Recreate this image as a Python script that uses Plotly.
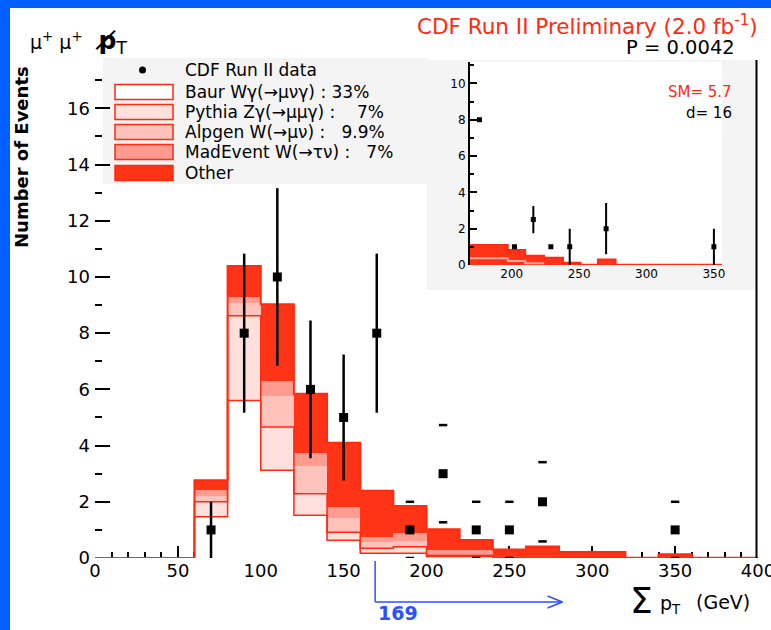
import plotly.graph_objects as go

# ---------------- data ----------------
bin_edges = list(range(0, 401, 20))
baur     = [0, 0, 0, 1.47, 5.60, 3.12, 1.52, 0.63, 0.17, 0.17, 0.05, 0.05, 0.02, 0.02, 0, 0, 0, 0, 0, 0]
pythia   = [0, 0, 0, 0.53, 3.02, 1.54, 0.77, 0.29, 0.18, 0.23, 0.05, 0.05, 0.02, 0.02, 0, 0, 0, 0, 0, 0]
alpgen   = [0, 0, 0, 0.20, 0.47, 1.12, 0.97, 0.49, 0.23, 0.20, 0.05, 0.05, 0.02, 0.02, 0, 0, 0, 0, 0, 0]
madevent = [0, 0, 0, 0.21, 0.20, 0.53, 0.49, 0.41, 0.18, 0.28, 0.13, 0.13, 0.02, 0.02, 0, 0, 0, 0, 0, 0]
other    = [0, 0, 0, 0.36, 1.10, 2.72, 2.09, 2.28, 1.63, 0.97, 0.74, 0.36, 0.22, 0.33, 0.21, 0.21, 0.01, 0.13, 0.01, 0.01]

data_x   = [70, 90, 110, 130, 150, 170, 190, 210, 230, 250, 270, 350]
data_y   = [1, 8, 10, 6, 5, 8, 1, 3, 1, 1, 2, 1]
data_err = [1.0, 2.83, 3.16, 2.45, 2.24, 2.83, 1.0, 1.73, 1.0, 1.0, 1.41, 1.0]
n_full_err = 6          # points drawn with full error bars (others show caps only)

threshold = 169
arrow_end = 282

legend_labels = ["CDF Run II data", "Baur Wγ(→μνγ) : 33%", "Pythia Zγ(→μμγ) :    7%",
                 "Alpgen W(→μν) :   9.9%", "MadEvent W(→τν) :   7%", "Other"]

# inset
inset_edges = [169, 197, 210, 224, 238, 251, 264, 277, 356]
inset_sm    = [1.10, 0.82, 0.51, 0.40, 0.13, 0.02, 0.30, 0.02]
inset_inner = [0.37, 0.22, 0.10]
inset_x   = [176, 202, 216, 229, 243, 270, 350]
inset_y   = [8, 1, 2.5, 1, 1, 2, 1]
inset_err = [0, 0, 0.75, 0, 1, 1.41, 1]
sm_text = "SM= 5.7"
d_text = "d= 16"
p_text = "P = 0.0042"

# ---------------- geometry helpers ----------------
W, H = 771, 630
L, R, T, B = 95, 13, 60, 72
PW, PH = W - L - R, H - T - B
def fx(px): return (px - L) / PW
def fy(py): return (H - B - py) / PH

FONT = "DejaVu Sans"
RED = "#ff3316"
LINE_RED = "#ff2a10"
BLUE = "#2a50ff"
colors = ["#ffffff", "#ffe0dc", "#ffc3bc", "#ff9b8f", RED]
layers = [baur, pythia, alpgen, madevent, other]

centers = [(a + b) / 2 for a, b in zip(bin_edges[:-1], bin_edges[1:])]
widths = [b - a for a, b in zip(bin_edges[:-1], bin_edges[1:])]

fig = go.Figure()
for vals, col in zip(layers, colors):
    fig.add_trace(go.Bar(x=centers, y=vals, width=widths, marker=dict(color=col, line=dict(width=0)),
                         showlegend=False, hoverinfo="skip"))

def cumul(k):
    return [sum(l[i] for l in layers[:k]) for i in range(len(centers))]

for k, lw in [(1, 1.5), (2, 1.5), (5, 2)]:
    c = cumul(k)
    fig.add_trace(go.Scatter(x=bin_edges, y=c + [c[-1]], mode="lines", line=dict(color=LINE_RED, width=lw, shape="hv"),
                             showlegend=False, hoverinfo="skip"))

# data points with full error bars
fig.add_trace(go.Scatter(x=data_x[:n_full_err], y=data_y[:n_full_err], mode="markers",
                         marker=dict(symbol="square", size=9, color="black"),
                         error_y=dict(type="data", array=data_err[:n_full_err], width=0, thickness=2.5, color="black"),
                         showlegend=False))
fig.add_trace(go.Scatter(x=data_x[n_full_err:], y=data_y[n_full_err:], mode="markers",
                         marker=dict(symbol="square", size=9, color="black"), showlegend=False))
cap_x, cap_y = [], []
for xv, yv, ev in zip(data_x[n_full_err:], data_y[n_full_err:], data_err[n_full_err:]):
    cap_x += [xv, xv]
    cap_y += [yv + ev, max(yv - ev, 0)]
fig.add_trace(go.Scatter(x=cap_x, y=cap_y, mode="markers",
                         marker=dict(symbol="line-ew", size=6, line=dict(width=2.5, color="black")),
                         showlegend=False))

# ---------------- inset ----------------
ic = [(a + b) / 2 for a, b in zip(inset_edges[:-1], inset_edges[1:])]
iw = [b - a for a, b in zip(inset_edges[:-1], inset_edges[1:])]
fig.add_trace(go.Bar(x=ic, y=inset_sm, width=iw, marker=dict(color=RED, line=dict(width=0)),
                     xaxis="x2", yaxis="y2", showlegend=False))
fig.add_trace(go.Scatter(x=inset_edges, y=inset_sm + [inset_sm[-1]], mode="lines", xaxis="x2", yaxis="y2",
                         line=dict(color=LINE_RED, width=2, shape="hv"), showlegend=False))
fig.add_trace(go.Scatter(x=inset_edges[:len(inset_inner) + 1], y=inset_inner + [inset_inner[-1]], mode="lines",
                         xaxis="x2", yaxis="y2", line=dict(color="#ffa89c", width=2, shape="hv"), showlegend=False))
fig.add_trace(go.Scatter(x=inset_x, y=inset_y, mode="markers", xaxis="x2", yaxis="y2",
                         marker=dict(symbol="square", size=5, color="black"),
                         error_y=dict(type="data", array=inset_err, width=0, thickness=2, color="black"),
                         showlegend=False))

# ---------------- shapes ----------------
shapes = [
    dict(type="rect", xref="paper", yref="paper", x0=fx(0), x1=fx(10), y0=fy(H), y1=fy(0),
         fillcolor="#0060ff", line=dict(width=0)),
    dict(type="rect", xref="paper", yref="paper", x0=fx(0), x1=fx(W), y0=fy(8), y1=fy(0),
         fillcolor="#0060ff", line=dict(width=0)),
    dict(type="rect", xref="paper", yref="paper", x0=fx(103), x1=fx(427), y0=fy(184), y1=fy(58),
         fillcolor="#f4f4f4", line=dict(width=0), layer="below"),
    dict(type="rect", xref="paper", yref="paper", x0=fx(427), x1=fx(756), y0=fy(290), y1=fy(60),
         fillcolor="#f4f4f4", line=dict(width=0), layer="below"),
    # right frame
    dict(type="rect", xref="paper", yref="paper", x0=fx(755.5), x1=fx(757.5), y0=0, y1=fy(60),
         fillcolor="black", line=dict(width=0)),
    # threshold arrow
    dict(type="line", xref="x", yref="paper", x0=threshold, x1=threshold, y0=fy(561), y1=fy(602),
         line=dict(color=BLUE, width=1.5)),
    dict(type="line", xref="x", yref="paper", x0=threshold, x1=arrow_end, y0=fy(602), y1=fy(602),
         line=dict(color=BLUE, width=1.5)),
    dict(type="line", xref="x", yref="paper", x0=arrow_end - 9, x1=arrow_end, y0=fy(596), y1=fy(602),
         line=dict(color=BLUE, width=1.5)),
    dict(type="line", xref="x", yref="paper", x0=arrow_end - 9, x1=arrow_end, y0=fy(608), y1=fy(602),
         line=dict(color=BLUE, width=1.5)),
]
entry_y = [70, 92, 112, 132, 152, 173]
shapes.append(dict(type="circle", xref="paper", yref="paper", x0=fx(139), x1=fx(146),
                   y0=fy(entry_y[0] + 3.5), y1=fy(entry_y[0] - 3.5), fillcolor="black", line=dict(width=0)))
for yy, col in zip(entry_y[1:], colors):
    shapes.append(dict(type="rect", xref="paper", yref="paper", x0=fx(115), x1=fx(173),
                       y0=fy(yy + 7.5), y1=fy(yy - 7.5), fillcolor=col, line=dict(color=LINE_RED, width=1.5)))

# ---------------- annotations ----------------
def ann(text, px, py, size=18, color="black", xanchor="left", **kw):
    return dict(text=text, xref="paper", yref="paper", x=fx(px), y=fy(py), xanchor=xanchor, yanchor="middle",
                showarrow=False, font=dict(family=FONT, size=size, color=color), **kw)

annotations = [ann(t, 183, yy, size=17) for t, yy in zip(legend_labels, entry_y)]
annotations += [
    ann("CDF Run II Preliminary (2.0 fb<sup>-1</sup>)", 760, 25, size=21.5, color=LINE_RED, xanchor="right"),
    ann(p_text, 737, 48, size=19.5, xanchor="right"),
    ann("<span style='font-size:19px'>μ<sup>+</sup> μ<sup>+</sup></span>  <b>p̸</b><sub>T</sub>", 28, 42, size=25),
    ann(sm_text, 734, 92, size=15, color=LINE_RED, xanchor="right"),
    ann(d_text, 734, 113, size=15, xanchor="right"),
    ann("<b>Number of Events</b>", 21, 157, size=18, xanchor="center", textangle=-90),
    ann("<b>%d</b>" % threshold, 376, 613, size=19, color=BLUE),
    ann("Σ", 641, 600, size=36, xanchor="center"),
    ann("p<sub>T</sub>", 658, 604, size=19),
    ann("(GeV)", 694, 602, size=19),
]

fig.update_layout(
    width=W, height=H, margin=dict(l=L, r=R, t=T, b=B, autoexpand=False), autosize=False,
    paper_bgcolor="white", plot_bgcolor="white",
    barmode="stack", bargap=0, showlegend=False,
    font=dict(family=FONT, size=18, color="black"),
    xaxis=dict(range=[0, 400], domain=[0, 1], showline=False, showgrid=False, zeroline=False, automargin=False,
               ticks="inside", ticklen=12, tickwidth=1.5, tickcolor="black",
               tickvals=list(range(0, 401, 50)), tickfont=dict(size=18), ticklabeloverflow="allow",
               minor=dict(ticks="inside", ticklen=6, tickwidth=1.5, dtick=10, tickcolor="black", showgrid=False),
               layer="below traces", fixedrange=True),
    yaxis=dict(range=[0, 17.72], domain=[0, 1], showline=False, showgrid=False, zeroline=False, automargin=False,
               ticks="inside", ticklen=15, tickwidth=1.5, tickcolor="black", dtick=2, tick0=0,
               tickfont=dict(size=18), ticklabelstandoff=4,
               minor=dict(ticks="inside", ticklen=7, tickwidth=1.5, dtick=1, tickcolor="black", showgrid=False),
               layer="below traces", fixedrange=True),
    xaxis2=dict(domain=[fx(470), fx(722)], range=[169, 356], anchor="y2", showline=False, showgrid=False,
                zeroline=False, automargin=False, ticks="", tickvals=[200, 250, 300, 350], tickfont=dict(size=12)),
    yaxis2=dict(domain=[fy(265), fy(61.7)], range=[0, 11.2], anchor="x2", showline=True, linewidth=2,
                linecolor="black", showgrid=False, zeroline=False, automargin=False, ticks="inside", ticklen=7,
                tickwidth=1.5, tickcolor="black", dtick=2, tick0=0, tickfont=dict(size=12),
                minor=dict(ticks="inside", ticklen=4, dtick=1, tickcolor="black")),
    shapes=shapes, annotations=annotations,
)

fig.write_html("out.html", config={"displayModeBar": False, "responsive": False},
               post_script="document.body.style.margin='0px';document.body.style.overflow='hidden';")
